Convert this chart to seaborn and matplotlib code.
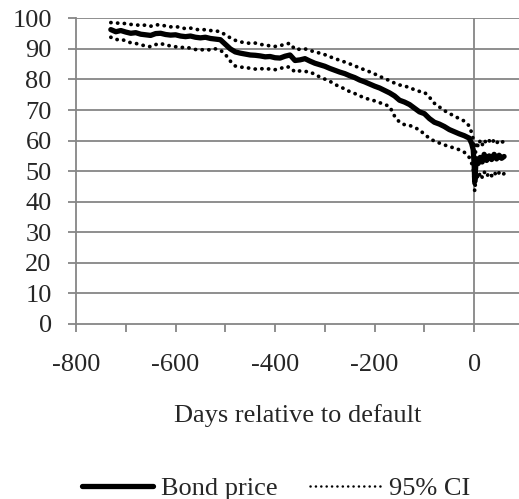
import numpy as np
import pandas as pd
import matplotlib
matplotlib.use("Agg")
import matplotlib.pyplot as plt
import seaborn as sns
from matplotlib.lines import Line2D
from matplotlib.ticker import MultipleLocator

days = [-730, -720, -710, -700, -690, -680, -670, -660, -650, -640, -630, -620, -610, -600,
        -590, -580, -570, -560, -550, -540, -530, -520, -510, -500, -490, -480, -470, -460,
        -450, -440, -430, -420, -410, -400, -390, -380, -370, -360, -350, -340, -330, -320,
        -310, -300, -290, -280, -270, -260, -250, -240, -230, -220, -210, -200, -190, -180,
        -170, -160, -150, -140, -130, -120, -110, -100, -90, -80, -70, -60, -50, -40, -30,
        -20, -10, -5, -2, 0, 1, 3, 5, 8, 12, 16, 20, 25, 30, 35, 40, 45, 50, 55, 60]

bond_price = [96.3, 95.6, 96.0, 95.5, 95.1, 95.3, 94.8, 94.6, 94.4, 95.0, 95.1, 94.7, 94.5, 94.6,
              94.2, 94.0, 94.2, 93.8, 93.6, 93.8, 93.4, 93.2, 93.0, 91.5, 90.0, 89.0, 88.6, 88.3,
              88.0, 87.9, 87.7, 87.4, 87.5, 87.1, 87.0, 87.6, 88.0, 86.2, 86.4, 86.8, 86.0, 85.3,
              84.8, 84.3, 83.6, 83.0, 82.4, 81.9, 81.2, 80.6, 79.8, 79.2, 78.5, 77.8, 77.2, 76.4,
              75.6, 74.6, 73.2, 72.6, 71.8, 70.6, 69.4, 68.8, 67.2, 66.0, 65.4, 64.6, 63.6, 62.9, 62.2,
              61.6, 60.8, 59.0, 57.0, 52.0, 46.5, 51.5, 54.0, 52.5, 54.5, 53.0, 55.5, 53.5, 55.0, 53.8,
              55.5, 54.0, 55.2, 54.2, 54.8]

ci_upper = [98.6, 98.5, 98.3, 98.3, 98.0, 97.9, 97.6, 97.8, 97.4, 97.9, 97.8, 97.5, 97.2, 97.3,
            97.0, 96.6, 96.8, 96.4, 96.2, 96.3, 96.0, 95.9, 95.6, 94.6, 93.6, 92.8, 92.3, 92.0,
            91.8, 91.9, 91.5, 91.2, 91.0, 90.8, 91.0, 91.6, 91.8, 89.8, 89.9, 90.0, 89.5, 89.0,
            88.6, 88.1, 87.4, 86.9, 86.2, 85.7, 85.1, 84.4, 83.8, 83.1, 82.5, 81.8, 81.0, 80.3,
            79.6, 78.8, 78.2, 77.8, 77.4, 76.6, 76.1, 75.8, 74.2, 72.2, 71.0, 69.8, 68.9, 68.0, 67.2,
            66.4, 64.8, 62.5, 60.5, 56.0, 52.0, 57.0, 59.5, 58.0, 60.0, 58.5, 60.2, 59.0, 60.0, 59.0,
            60.3, 59.2, 60.0, 59.4, 59.8]

ci_lower = [93.8, 93.0, 93.2, 92.6, 92.0, 91.8, 91.3, 91.0, 90.7, 91.4, 91.8, 91.2, 91.0, 90.7,
            90.4, 90.6, 90.2, 89.8, 89.6, 89.9, 89.6, 90.0, 89.6, 88.2, 86.0, 84.4, 84.0, 84.0,
            83.6, 83.4, 83.6, 83.3, 83.5, 83.2, 83.5, 84.2, 84.0, 82.4, 82.8, 82.6, 82.5, 81.6,
            80.8, 80.1, 79.4, 78.4, 77.6, 76.9, 76.0, 75.4, 74.6, 74.0, 73.4, 73.0, 72.4, 71.8,
            71.2, 68.0, 66.0, 65.2, 65.0, 64.2, 63.6, 62.0, 60.8, 59.8, 59.2, 58.6, 58.0, 57.6, 57.0,
            56.2, 54.5, 52.5, 51.0, 46.0, 43.5, 47.0, 49.0, 47.5, 49.5, 48.0, 49.8, 48.2, 49.5, 48.5,
            49.8, 48.4, 49.5, 48.6, 49.2]

y_ticks = [0, 10, 20, 30, 40, 50, 60, 70, 80, 90, 100]
x_ticks = [-800, -600, -400, -200, 0]
x_label = "Days relative to default"
legend_labels = ["Bond price", "95% CI"]

sns.set_theme(style="white")
plt.rcParams['font.family'] = ['Liberation Serif', 'DejaVu Serif']
FS = 19
GRAY = "#868686"

fig = plt.figure(figsize=(5.19, 4.99), dpi=100)
ax = fig.add_axes([76 / 519, 1 - 324 / 499, 1 - 76 / 519, (324 - 18.3) / 499])

df = pd.DataFrame({"day": days, "bond": bond_price, "up": ci_upper, "lo": ci_lower})

dot_style = (0, (0.05, 1.75))
sns.lineplot(data=df, x="day", y="up", ax=ax, color="black", lw=2.7,
             linestyle=dot_style, dash_capstyle="round", estimator=None, sort=False)
sns.lineplot(data=df, x="day", y="lo", ax=ax, color="black", lw=2.7,
             linestyle=dot_style, dash_capstyle="round", estimator=None, sort=False)
sns.lineplot(data=df, x="day", y="bond", ax=ax, color="black", lw=3.8,
             estimator=None, sort=False, solid_joinstyle="round")

ax.set_xlim(-800, 90)
ax.set_ylim(0, 100)
ax.set_yticks(y_ticks)
ax.set_xticks(x_ticks)
ax.xaxis.set_minor_locator(MultipleLocator(100))
ax.set_xticklabels([str(t) for t in x_ticks])
ax.set_yticklabels([str(t) for t in y_ticks])

for y in y_ticks[1:]:
    ax.axhline(y, color=GRAY, lw=1.3, zorder=0.5)
ax.axvline(0, color=GRAY, lw=1.3, zorder=0.5)

for s in ["top", "right"]:
    ax.spines[s].set_visible(False)
for s in ["left", "bottom"]:
    ax.spines[s].set_color(GRAY)
    ax.spines[s].set_linewidth(1.3)
    ax.spines[s].set_zorder(0.6)

ax.tick_params(axis="x", which="both", direction="out", length=5.5, width=1.3, color=GRAY,
               bottom=True, labelsize=FS, pad=16)
ax.tick_params(axis="x", which="minor", length=5.5)
ax.tick_params(axis="y", direction="out", length=5.5, width=1.3, color=GRAY,
               left=True, labelsize=FS, pad=12)
ax.set_xlabel(x_label, fontsize=FS, labelpad=20)
ax.set_ylabel("")
ax.set_facecolor("white")

handles = [Line2D([0], [0], color="black", lw=3.8),
           Line2D([0], [0], color="black", lw=1.8, linestyle=(0, (0.05, 2.1)),
                  dash_capstyle="round")]
fig.legend(handles, legend_labels, loc="center", bbox_to_anchor=(276 / 519, 1 - 488 / 499),
           ncol=2, frameon=False, fontsize=FS, handlelength=2.7, handletextpad=0.3,
           columnspacing=1.2)

fig.savefig("out.png", dpi=100, facecolor="white")
